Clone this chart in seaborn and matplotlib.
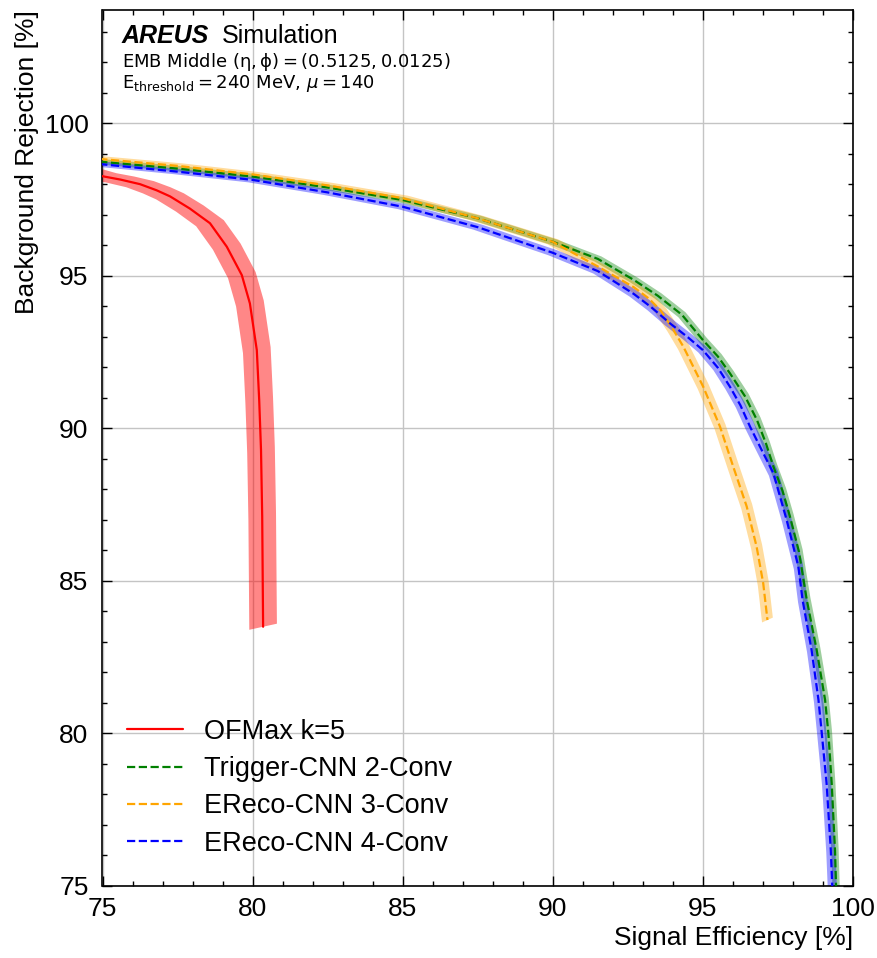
import numpy as np
import pandas as pd
import matplotlib
matplotlib.use("Agg")
import matplotlib.pyplot as plt
from matplotlib.ticker import MultipleLocator
import seaborn as sns

# ---- data ----
ofmax_eff = [74.5, 75.0, 75.6, 76.25, 76.8, 77.25, 77.91, 78.58, 79.14, 79.64, 79.91, 80.14, 80.22, 80.28, 80.32, 80.35]
ofmax_rej = [98.40, 98.26, 98.15, 98.0, 97.8, 97.6, 97.2, 96.72, 95.95, 95.02, 94.09, 92.56, 90.92, 89.29, 87.10, 83.49]
ofmax_deff = [0.46] * len(ofmax_eff)
ofmax_drej = [0.1] * len(ofmax_eff)

trig2_eff = [74.5, 75.0, 77.5, 80.0, 82.5, 85.0, 87.5, 90.0, 91.5, 92.7, 93.5, 94.3, 95.0, 95.5, 95.9,
             96.4, 96.8, 97.1, 97.35, 97.65, 97.9, 98.2, 98.46, 98.79, 99.07, 99.18, 99.29, 99.40, 99.45]
trig2_rej = [98.78, 98.73, 98.51, 98.25, 97.89, 97.48, 96.88, 96.11, 95.55, 94.86, 94.34, 93.72, 92.89, 92.35, 91.80,
             91.05, 90.27, 89.5, 88.74, 87.95, 87.10, 85.95, 84.37, 82.73, 81.09, 80.0, 78.36, 76.17, 74.5]
trig2_deff = [0.12] * len(trig2_eff)
trig2_drej = [0.08] * len(trig2_eff)

ereco3_eff = [74.5, 75.0, 77.5, 80.0, 82.5, 85.0, 87.5, 90.0, 91.5, 92.7, 93.2, 93.6, 94.0, 94.35, 95.01, 95.57,
              96.01, 96.46, 96.79, 97.01, 97.15]
ereco3_rej = [98.87, 98.82, 98.60, 98.32, 97.96, 97.54, 96.88, 96.11, 95.30, 94.62, 94.25, 93.85, 93.25, 92.67, 91.36, 90.05,
              88.74, 87.43, 86.11, 84.91, 83.71]
ereco3_deff = [0.18] * len(ereco3_eff)
ereco3_drej = [0.08] * len(ereco3_eff)

ereco4_eff = [74.5, 75.0, 77.5, 80.0, 82.5, 85.0, 87.5, 90.0, 91.5, 92.7, 93.3, 93.9, 94.5, 95.0, 95.5, 95.9,
              96.25, 96.57, 96.95, 97.35, 97.79, 98.18, 98.32, 98.62, 98.85, 98.96, 99.12, 99.26, 99.33]
ereco4_rej = [98.70, 98.65, 98.41, 98.14, 97.73, 97.26, 96.59, 95.75, 95.15, 94.40, 93.95, 93.44, 92.98, 92.56, 91.98, 91.36,
              90.75, 90.05, 89.3, 88.52, 86.99, 85.46, 84.37, 82.73, 81.09, 80.0, 78.36, 76.17, 74.5]
ereco4_deff = [0.15] * len(ereco4_eff)
ereco4_drej = [0.08] * len(ereco4_eff)

labels = ["OFMax k=5", "Trigger-CNN 2-Conv", "EReco-CNN 3-Conv", "EReco-CNN 4-Conv"]
colors = ["red", "green", "orange", "blue"]
styles = ["-", "--", "--", "--"]
series = [
    (ofmax_eff, ofmax_rej, ofmax_deff, ofmax_drej),
    (trig2_eff, trig2_rej, trig2_deff, trig2_drej),
    (ereco3_eff, ereco3_rej, ereco3_deff, ereco3_drej),
    (ereco4_eff, ereco4_rej, ereco4_deff, ereco4_drej),
]

sns.set_style("ticks")
plt.rcParams["font.family"] = ["Liberation Sans", "DejaVu Sans"]
plt.rcParams["text.color"] = "black"
plt.rcParams["axes.labelcolor"] = "black"
plt.rcParams["xtick.color"] = "black"
plt.rcParams["ytick.color"] = "black"
plt.rcParams["axes.edgecolor"] = "black"

fig = plt.figure(figsize=(8.78, 9.58), dpi=100)
ax = fig.add_axes([102.5 / 878, 1 - 885.7 / 958, 750.5 / 878, 876 / 958])

# uncertainty bands
for (x, y, dx, dy), c in zip(series, colors):
    x = np.asarray(x); y = np.asarray(y); dx = np.asarray(dx); dy = np.asarray(dy)
    px = np.concatenate([x + dx, (x - dx)[::-1]])
    py = np.concatenate([y + dy, (y - dy)[::-1]])
    ax.fill(px, py, color=c, alpha=0.47 if c == "red" else 0.38, lw=0, zorder=2)

# central lines
for (x, y, dx, dy), c, ls, lab in zip(series, colors, styles, labels):
    df = pd.DataFrame({"eff": x, "rej": y})
    sns.lineplot(data=df, x="eff", y="rej", sort=False, estimator=None, color=c,
                 linestyle=ls, lw=1.6, label=lab, ax=ax, zorder=3)

ax.set_xlim(75, 100)
ax.set_ylim(75, 103.72)
ax.xaxis.set_major_locator(MultipleLocator(5))
ax.xaxis.set_minor_locator(MultipleLocator(1))
ax.yaxis.set_major_locator(MultipleLocator(5))
ax.yaxis.set_minor_locator(MultipleLocator(1))
ax.grid(True, which="major", color="#c4c4c4", lw=1.0, zorder=0)
ax.set_axisbelow(True)
ax.tick_params(which="both", direction="in", top=True, right=True, width=1.0, color="black")
ax.tick_params(which="major", length=7.2, labelsize=19, labelcolor="black")
ax.tick_params(which="minor", length=3.6)
ax.tick_params(axis="x", which="major", pad=8)
ax.tick_params(axis="y", which="major", pad=10)
for s in ax.spines.values():
    s.set_linewidth(1.2)
    s.set_color("black")

ax.set_xlabel("Signal Efficiency [%]", fontsize=19, loc="right", color="black")
ax.set_ylabel("Background Rejection [%]", fontsize=19, loc="top", color="black")

leg = ax.legend(loc="lower left", bbox_to_anchor=(0.032, 0.033), frameon=False, fontsize=19.5,
                handlelength=2.1, handletextpad=0.75, labelspacing=0.42, borderpad=0, borderaxespad=0)
for t in leg.get_texts():
    t.set_color("black")

ax.text(0.0256, 0.9616, "AREUS", transform=ax.transAxes, fontsize=18, fontweight="bold",
        fontstyle="italic", va="baseline", ha="left", color="black")
ax.text(0.159, 0.9616, "Simulation", transform=ax.transAxes, fontsize=18, va="baseline", ha="left",
        color="black")
ax.text(0.0256, 0.935, r"EMB Middle $(\mathrm{\eta}, \mathrm{\phi}) = (0.5125, 0.0125)$",
        transform=ax.transAxes, fontsize=13, va="baseline", ha="left", family=["DejaVu Sans"], color="black")
ax.text(0.0256, 0.9103, r"$\mathrm{E}_{\mathrm{threshold}} = 240$ MeV, $\mu = 140$",
        transform=ax.transAxes, fontsize=13, va="baseline", ha="left", family=["DejaVu Sans"], color="black")

fig.savefig("out.png", dpi=100)
